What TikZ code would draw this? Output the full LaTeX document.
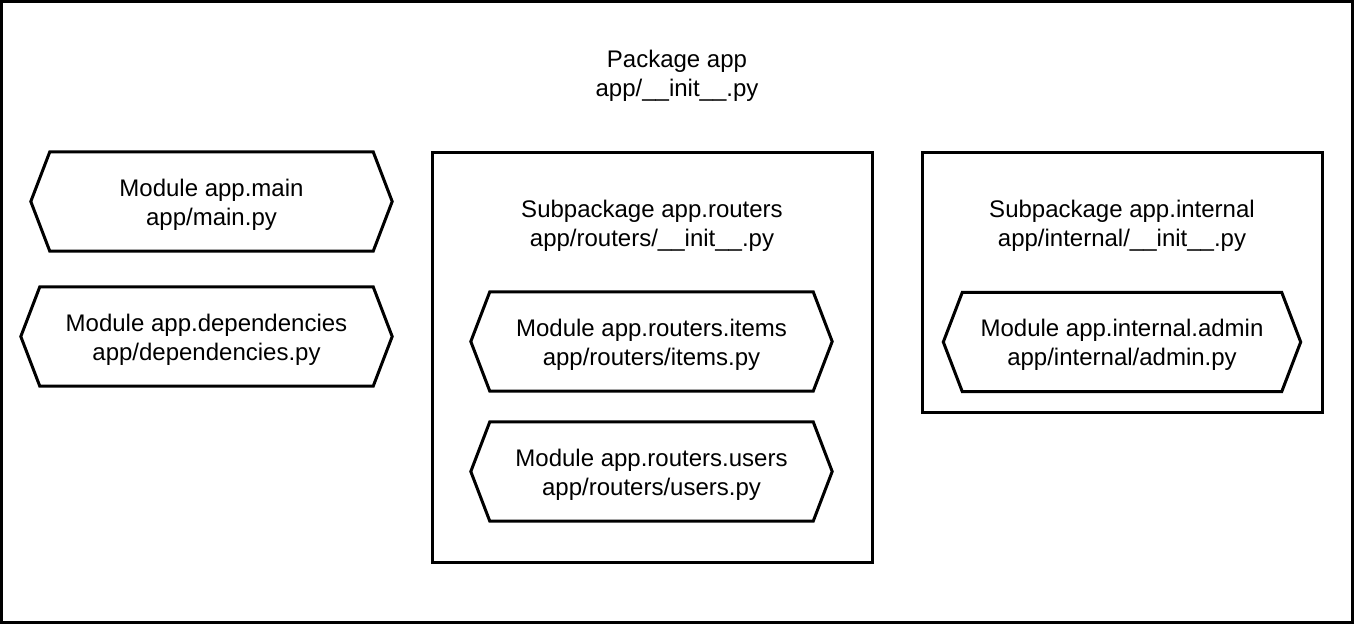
\documentclass[tikz,border=0pt]{standalone}
\usepackage{fontspec}
\setmainfont{Liberation Sans}
\begin{document}
\begin{tikzpicture}[x=1pt,y=-1pt,
  lbl/.style={align=center,font=\fontsize{24}{29}\selectfont,inner sep=0pt},
  frame/.style={draw=black,line width=3pt},
  hexbox/.style={draw=none,inner sep=0pt,minimum width=#1,minimum height=99pt},
]
\useasboundingbox (0,0) rectangle (1354,624);
\fill[white] (0,0) rectangle (1354,624);
% outer package
\node[frame,minimum width=1351pt,minimum height=621pt,inner sep=0pt] (pkg) at (677,312) {};
\node[lbl] (pkgl) at (677,75.5) {Package app\\app/\_\_init\_\_.py};

\newcommand{\hexa}[1]{\draw[frame,line join=miter] (#1.north west) -- (#1.north east) -- ([xshift=19pt]#1.east) -- (#1.south east) -- (#1.south west) -- ([xshift=-19pt]#1.west) -- cycle;}

% left modules
\node[hexbox=323pt] (main) at (211.5,201.5) {};
\hexa{main}
\node[lbl] (mainl) at ([yshift=-3pt]main.center) {Module app.main\\app/main.py};

\node[hexbox=333pt] (dep) at (206.5,336.5) {};
\hexa{dep}
\node[lbl] (depl) at ([yshift=-3pt]dep.center) {Module app.dependencies\\app/dependencies.py};

% routers subpackage
\node[frame,minimum width=440pt,minimum height=410pt,inner sep=0pt] (routers) at (652,357) {};
\node[lbl] (routersl) at (652,225.5) {Subpackage app.routers\\app/routers/\_\_init\_\_.py};

\node[hexbox=323pt] (items) at (651.5,341.5) {};
\hexa{items}
\node[lbl] (itemsl) at ([yshift=-3pt]items.center) {Module app.routers.items\\app/routers/items.py};

\node[hexbox=323pt] (users) at (651.5,471.5) {};
\hexa{users}
\node[lbl] (usersl) at ([yshift=-3pt]users.center) {Module app.routers.users\\app/routers/users.py};

% internal subpackage
\node[frame,minimum width=400pt,minimum height=260pt,inner sep=0pt] (internal) at (1122,282) {};
\node[lbl] (internall) at (1122,225.5) {Subpackage app.internal\\app/internal/\_\_init\_\_.py};

\node[hexbox=319pt] (admin) at (1122,342) {};
\hexa{admin}
\node[lbl] (adminl) at ([yshift=-3pt]admin.center) {Module app.internal.admin\\app/internal/admin.py};
\end{tikzpicture}
\end{document}
